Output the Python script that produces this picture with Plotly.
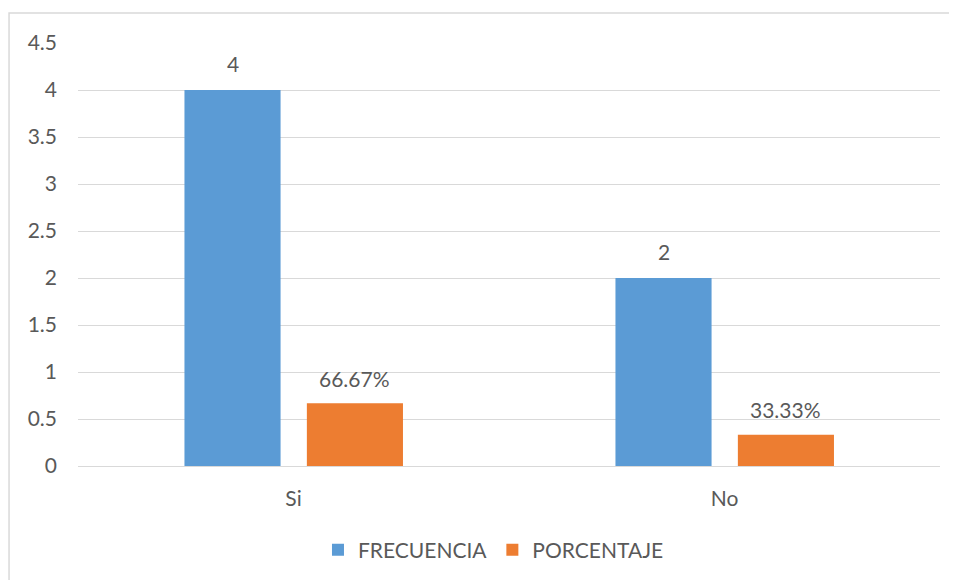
import plotly.graph_objects as go

categories = ["Si", "No"]
frecuencia = [4, 2]
porcentaje = [0.6667, 0.3333]
y_ticks = [0, 0.5, 1, 1.5, 2, 2.5, 3, 3.5, 4, 4.5]
y_tick_labels = ["0", "0.5", "1", "1.5", "2", "2.5", "3", "3.5", "4", "4.5"]

FONT = "Lato"
TXT = "#595959"
BAR_W = 0.223
OFFS = [-0.253, 0.031]

xs = list(range(len(categories)))

fig = go.Figure()
fig.add_trace(go.Bar(
    x=xs, y=frecuencia, name="FRECUENCIA", width=BAR_W, offset=OFFS[0],
    marker=dict(color="#5b9bd5", line=dict(width=0)),
))
fig.add_trace(go.Bar(
    x=xs, y=porcentaje, name="PORCENTAJE", width=BAR_W, offset=OFFS[1],
    marker=dict(color="#ed7d31", line=dict(width=0)),
))

annotations = []
for i, v in enumerate(frecuencia):
    annotations.append(dict(x=i + OFFS[0] + BAR_W / 2, y=v, xref="x", yref="y",
                            text=f"{v:g}", showarrow=False, yanchor="middle", yshift=27,
                            font=dict(family=FONT, size=21, color=TXT)))
for i, v in enumerate(porcentaje):
    annotations.append(dict(x=i + OFFS[1] + BAR_W / 2, y=v, xref="x", yref="y",
                            text=f"{v*100:.2f}%", showarrow=False, yanchor="middle", yshift=25,
                            font=dict(family=FONT, size=21, color=TXT)))

fig.update_layout(
    width=949, height=572,
    margin=dict(l=70, r=17, t=35, b=114, autoexpand=False),
    paper_bgcolor="white", plot_bgcolor="white",
    font=dict(family=FONT, size=21, color=TXT),
    showlegend=True,
    legend=dict(orientation="h", x=0.482, xanchor="center", y=-0.199, yanchor="middle",
                font=dict(family=FONT, size=21, color=TXT), traceorder="normal",
                itemwidth=30),
    xaxis=dict(range=[-0.5, 1.5], tickvals=xs, ticktext=categories, showgrid=False,
               zeroline=False, showline=True, linecolor="#d9d9d9", linewidth=1,
               ticks="", ticklabelstandoff=14, fixedrange=True, automargin=False),
    yaxis=dict(range=[0, 4.5], tickvals=y_ticks, ticktext=y_tick_labels, showgrid=True,
               gridcolor="#d9d9d9", gridwidth=1, zeroline=False, showline=False,
               ticks="", ticklabelstandoff=20, automargin=False),
    annotations=annotations,
    shapes=[dict(type="rect", xref="paper", yref="paper", x0=-0.080, x1=1.06,
                 y0=-0.36, y1=1.071, line=dict(color="#d9d9d9", width=1.5),
                 fillcolor="rgba(0,0,0,0)", layer="below")],
)

fig.write_html("out.html")
